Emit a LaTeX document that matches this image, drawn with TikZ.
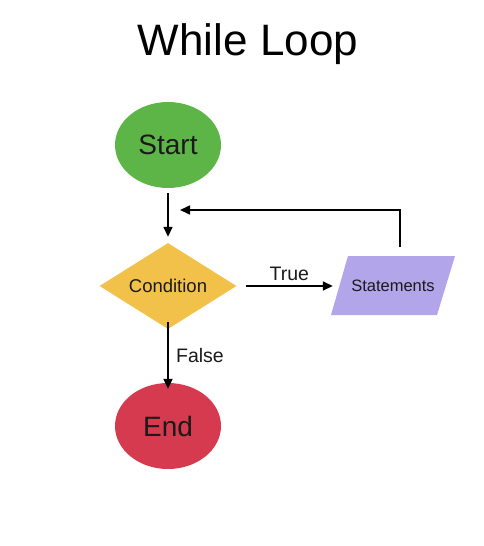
\documentclass[tikz,border=0pt]{standalone}
\usepackage{fontspec}
\setmainfont{Liberation Sans}
\usetikzlibrary{shapes.geometric,arrows.meta}
\definecolor{startgreen}{HTML}{5DB548}
\definecolor{condyellow}{HTML}{F2C14A}
\definecolor{stmtpurple}{HTML}{B3A5EA}
\definecolor{endred}{HTML}{D53A4F}
\definecolor{txtdark}{HTML}{1A1A1A}
\begin{document}
\begin{tikzpicture}[x=1pt,y=-1pt,
  term/.style={ellipse,minimum width=106pt,minimum height=86pt,inner sep=0pt,text=txtdark,font=\fontsize{28}{30}\selectfont},
  cond/.style={diamond,fill=condyellow,minimum width=137pt,minimum height=86pt,inner sep=0pt,aspect=1.6,text=txtdark,font=\fontsize{18.5}{20}\selectfont},
  conn/.style={draw=black,line width=1.6pt,-{Triangle[length=10pt,width=9pt]}},
  lbl/.style={font=\fontsize{19.5}{21}\selectfont,text=txtdark}]
\useasboundingbox (0,0) rectangle (483,546);
\fill[white] (0,0) rectangle (483,546);
\node (title) at (248,44) {\fontsize{44}{48}\selectfont While Loop};
\node[term,fill=startgreen] (start) at (168,145) {Start};
\node[cond] (cond) at (168,286) {Condition};
\fill[stmtpurple] (348,256) -- (455,256) -- (437,315) -- (331,315) -- cycle;
\node[font=\fontsize{16.5}{18}\selectfont,text=txtdark,minimum width=100pt,minimum height=59pt,inner sep=0pt] (stmt) at (393,286) {Statements};
\node[term,fill=endred] (end) at (168,426) {End};
\coordinate (loopstart) at (400,247);
\coordinate (looptip) at (180,210);
\draw[conn] ([yshift=-5pt]start.south) -- ([yshift=6pt]cond.north);
\draw[conn] ([xshift=9pt]cond.east) -- node[lbl,above=1pt] {True} ([xshift=-10pt,yshift=0pt]stmt.west);
\draw[conn] (loopstart) |- (looptip);
\draw[conn] ([yshift=7pt]cond.south) -- node[lbl,right=4pt] {False} ([yshift=-6pt]end.north);
\end{tikzpicture}
\end{document}
